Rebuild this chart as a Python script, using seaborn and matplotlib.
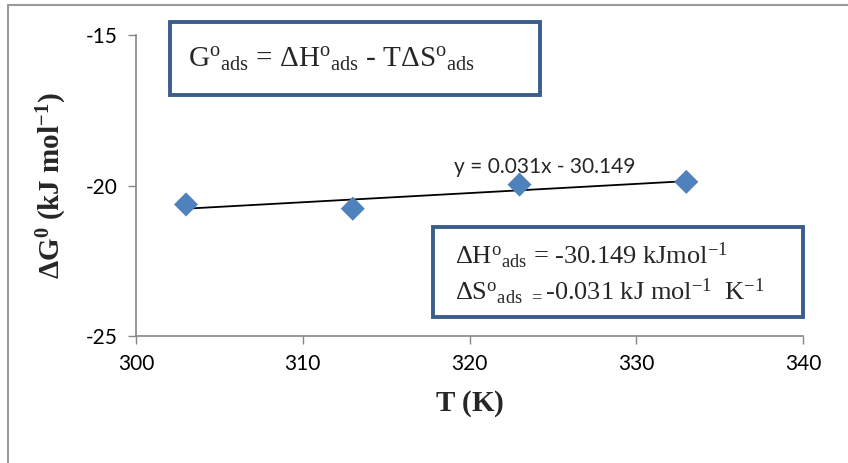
import numpy as np
import pandas as pd
import matplotlib
matplotlib.use("Agg")
import matplotlib.pyplot as plt
import seaborn as sns
from matplotlib.patches import Rectangle
from matplotlib.lines import Line2D

# data
temps = [303, 313, 323, 333]
dG = [-20.63, -20.77, -19.97, -19.88]
x_ticks = [300, 310, 320, 330, 340]
y_ticks = [-25, -20, -15]

df = pd.DataFrame({"T": temps, "dG": dG})

sns.set_style("white")
plt.rcParams["mathtext.fontset"] = "custom"
plt.rcParams["mathtext.rm"] = "Liberation Serif"
plt.rcParams["mathtext.it"] = "Liberation Serif:italic"
plt.rcParams["mathtext.bf"] = "Liberation Serif:bold"
plt.rcParams["axes.unicode_minus"] = False
plt.rcParams["font.family"] = ["Lato", "DejaVu Sans"]

fig = plt.figure(figsize=(8.48, 4.63), dpi=100)
ax = fig.add_axes([136 / 848, 1 - 336 / 463, 667 / 848, 301 / 463])

# trend line + points
sns.regplot(data=df, x="T", y="dG", ax=ax, ci=None, scatter=False,
            line_kws={"color": "black", "lw": 1.3})
sns.scatterplot(data=df, x="T", y="dG", ax=ax, marker="D", s=150,
                color="#4F81BD", edgecolor="none", zorder=3)

ax.set_xlim(300, 340)
ax.set_ylim(-25, -15)
ax.set_xticks(x_ticks)
ax.set_yticks(y_ticks)
ax.tick_params(axis="both", labelsize=15, colors="#868686", labelcolor="black",
               direction="out", length=6, width=1, pad=7, bottom=True, left=True)
for side in ["top", "right"]:
    ax.spines[side].set_visible(False)
for side in ["left", "bottom"]:
    ax.spines[side].set_color("#868686")
    ax.spines[side].set_linewidth(1.2)

ax.set_xlabel(r"$\mathbf{T\ (K)}$", fontsize=21, labelpad=10)
ax.set_ylabel(r"$\mathbf{\Delta G^0\ (kJ\ mol^{-1})}$", fontsize=21, labelpad=12)

ax.text(324.5, -19.4, "y = 0.031x - 30.149", fontsize=15, ha="center", va="center")

# outer frame (top and left edges)
fig.add_artist(Line2D([8 / 848, 1], [1 - 5 / 463, 1 - 5 / 463], color="#9a9a9a", lw=1.5))
fig.add_artist(Line2D([8 / 848, 8 / 848], [0, 1 - 5 / 463], color="#9a9a9a", lw=1.5))

serif = "Liberation Serif"
box_col = "#3B5E8C"
fig.add_artist(Rectangle((170 / 848, 1 - 95 / 463), 370 / 848, 73 / 463,
                         transform=fig.transFigure, fill=True, facecolor="white",
                         edgecolor=box_col, lw=2.8, zorder=5))
fig.text(188 / 848, 1 - 60 / 463,
         r"G${}^{\mathrm{o}}{}_{\mathrm{ads}}$ = ΔH${}^{\mathrm{o}}{}_{\mathrm{ads}}$ - TΔS${}^{\mathrm{o}}{}_{\mathrm{ads}}$",
         fontsize=21, family=serif, ha="left", va="center", zorder=6)

fig.add_artist(Rectangle((433 / 848, 1 - 317 / 463), 370 / 848, 90 / 463,
                         transform=fig.transFigure, fill=True, facecolor="white",
                         edgecolor=box_col, lw=2.8, zorder=5))
fig.text(455 / 848, 1 - 256 / 463,
         r"ΔH${}^{\mathrm{o}}{}_{\mathrm{ads}}$ = -30.149 kJmol${}^{\mathrm{-1}}$",
         fontsize=19, family=serif, ha="left", va="center", zorder=6)
fig.text(455 / 848, 1 - 292 / 463,
         r"ΔS${}^{\mathrm{o}}{}_{\mathrm{ads}}$ ${}_{=}$-0.031 kJ mol${}^{\mathrm{-1}}$  K${}^{\mathrm{-1}}$",
         fontsize=19, family=serif, ha="left", va="center", zorder=6)

fig.savefig("out.png", dpi=100)
